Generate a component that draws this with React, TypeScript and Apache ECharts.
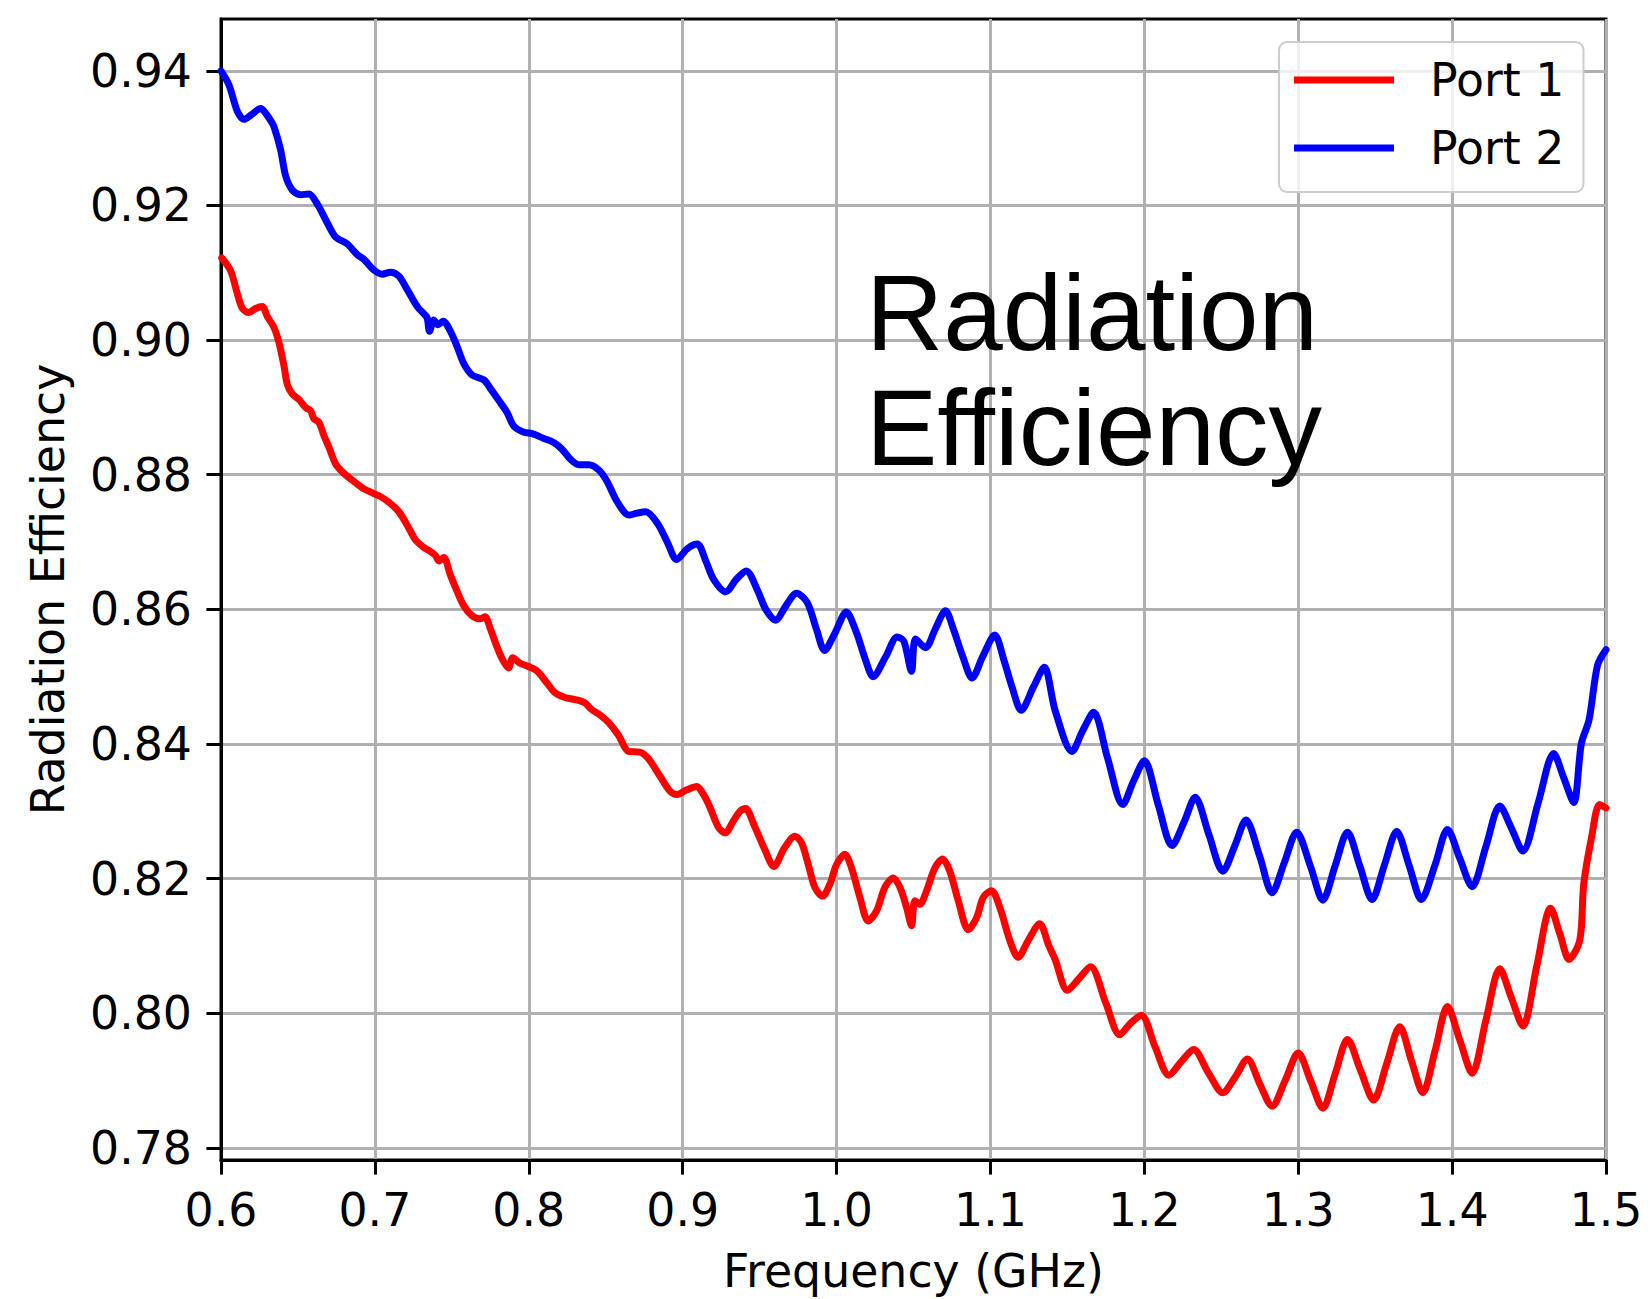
import React, { useEffect, useRef } from "react";
import * as echarts from "echarts";

// ---- Data ----
const freqPort1 = [
  0.6005, 0.6063, 0.6106, 0.6139, 0.6182, 0.6225, 0.6268, 0.6301, 0.6344, 0.6377,
  0.6409, 0.6431, 0.6463, 0.6506, 0.655, 0.6582, 0.6604, 0.6636, 0.6669, 0.6701,
  0.6745, 0.6799, 0.6864, 0.6929, 0.6994, 0.7048, 0.7102, 0.7156, 0.721, 0.7264,
  0.7318, 0.7361, 0.7394, 0.7416, 0.7448, 0.7489, 0.7532, 0.7576, 0.763, 0.7684,
  0.7716, 0.7749, 0.7792, 0.7835, 0.7868, 0.7896, 0.7944, 0.7998, 0.8052, 0.8117,
  0.8171, 0.8236, 0.8301, 0.8366, 0.8409, 0.8463, 0.8518, 0.8583, 0.8648, 0.8723,
  0.8778, 0.8853, 0.8918, 0.8962, 0.9028, 0.9092, 0.9135, 0.9179, 0.9233, 0.9276,
  0.933, 0.9373, 0.9409, 0.9463, 0.953, 0.9593, 0.966, 0.9729, 0.9773, 0.9816,
  0.9859, 0.9909, 0.9957, 1.0, 1.0054, 1.0097, 1.0152, 1.0206, 1.026, 1.0314,
  1.0368, 1.0412, 1.0455, 1.0487, 1.0509, 1.0541, 1.0585, 1.0639, 1.0689, 1.0736,
  1.0791, 1.0856, 1.091, 1.0953, 1.1007, 1.1061, 1.1126, 1.118, 1.1245, 1.132,
  1.138, 1.142, 1.15, 1.157, 1.165, 1.175, 1.184, 1.191, 1.198, 1.207,
  1.216, 1.224, 1.232, 1.2415, 1.251, 1.259, 1.267, 1.275, 1.283, 1.2915,
  1.3, 1.308, 1.316, 1.324, 1.332, 1.3405, 1.349, 1.3575, 1.366, 1.3735,
  1.381, 1.389, 1.397, 1.405, 1.413, 1.422, 1.431, 1.4385, 1.446, 1.455,
  1.464, 1.47, 1.476, 1.483, 1.4855, 1.4906, 1.4958, 1.5,
];
const effPort1 = [
  0.9122, 0.9103, 0.9069, 0.9047, 0.9041, 0.9047, 0.905, 0.9035, 0.9019, 0.8996,
  0.8962, 0.8934, 0.892, 0.8912, 0.89, 0.8895, 0.8883, 0.8878, 0.8858, 0.8841,
  0.8816, 0.8802, 0.879, 0.8779, 0.8772, 0.8766, 0.8757, 0.8745, 0.8725, 0.8703,
  0.8692, 0.8686, 0.868, 0.8672, 0.8677, 0.8652, 0.8628, 0.8606, 0.8591, 0.8586,
  0.8589, 0.8572, 0.8545, 0.8523, 0.8513, 0.8528, 0.852, 0.8515, 0.8509, 0.8491,
  0.8476, 0.8469, 0.8466, 0.8461, 0.8451, 0.8443, 0.8432, 0.8413, 0.8389, 0.8388,
  0.8378, 0.8352, 0.833, 0.8325, 0.8332, 0.8337, 0.8325, 0.8305, 0.8276, 0.8268,
  0.8286, 0.83, 0.8304, 0.828, 0.8245, 0.8218, 0.8245, 0.8263, 0.8253, 0.8221,
  0.8187, 0.8174, 0.8192, 0.8221, 0.8236, 0.8216, 0.8172, 0.8137, 0.8152, 0.8187,
  0.8201, 0.8187, 0.8157, 0.813, 0.8167, 0.8162, 0.8182, 0.8216, 0.8229, 0.8211,
  0.8167, 0.8124, 0.8142, 0.8172, 0.8182, 0.8157, 0.8108, 0.8083, 0.8108, 0.8133,
  0.81, 0.808, 0.8034, 0.805, 0.8069, 0.8015, 0.7968, 0.7985, 0.7997, 0.795,
  0.7908, 0.7928, 0.7946, 0.7912, 0.7882, 0.7905, 0.7932, 0.7895, 0.7862, 0.79,
  0.7941, 0.79, 0.7859, 0.791, 0.7961, 0.7915, 0.7871, 0.7925, 0.798, 0.793,
  0.7882, 0.7945, 0.801, 0.796, 0.7911, 0.799, 0.8066, 0.8023, 0.7981, 0.807,
  0.8156, 0.8118, 0.808, 0.8109, 0.8191, 0.8261, 0.831, 0.8305,
];

const freqPort2 = [
  0.6, 0.6052, 0.6106, 0.615, 0.6193, 0.6258, 0.629, 0.6323, 0.6344, 0.6387,
  0.642, 0.6463, 0.6517, 0.6571, 0.6626, 0.6691, 0.6745, 0.682, 0.6885, 0.6929,
  0.6994, 0.7048, 0.7102, 0.7156, 0.721, 0.7275, 0.7323, 0.734, 0.7355, 0.7383,
  0.7409, 0.7444, 0.7491, 0.7535, 0.7578, 0.7632, 0.7708, 0.7751, 0.7816, 0.786,
  0.7903, 0.7968, 0.8022, 0.8098, 0.8162, 0.8216, 0.8271, 0.8325, 0.839, 0.8455,
  0.8509, 0.8574, 0.8652, 0.8704, 0.876, 0.8836, 0.89, 0.8961, 0.903, 0.9095,
  0.915, 0.92, 0.928, 0.935, 0.9413, 0.9485, 0.954, 0.9604, 0.967, 0.974,
  0.981, 0.987, 0.9922, 0.999, 1.0063, 1.013, 1.0185, 1.0238, 1.032, 1.0394,
  1.0437, 1.0487, 1.0513, 1.0578, 1.064, 1.0708, 1.076, 1.082, 1.0881, 1.095,
  1.1028, 1.1087, 1.114, 1.12, 1.128, 1.135, 1.142, 1.153, 1.16, 1.167,
  1.176, 1.186, 1.193, 1.2, 1.209, 1.218, 1.226, 1.233, 1.242, 1.251,
  1.259, 1.266, 1.275, 1.283, 1.291, 1.299, 1.308, 1.316, 1.324, 1.332,
  1.34, 1.348, 1.356, 1.364, 1.372, 1.38, 1.389, 1.397, 1.405, 1.413,
  1.422, 1.431, 1.4385, 1.446, 1.456, 1.466, 1.4725, 1.479, 1.484, 1.489,
  1.4945, 1.5,
];
const effPort2 = [
  0.94, 0.9379, 0.934, 0.9328, 0.9334, 0.9344, 0.9337, 0.9326, 0.9317, 0.9283,
  0.9244, 0.9223, 0.9216, 0.9217, 0.9202, 0.9174, 0.9153, 0.9143, 0.9127, 0.912,
  0.9104, 0.9098, 0.9101, 0.9095, 0.9075, 0.905, 0.9038, 0.9033, 0.9013, 0.903,
  0.9023, 0.9028, 0.9013, 0.899, 0.8965, 0.8948, 0.8941, 0.8928, 0.8907, 0.8892,
  0.8872, 0.8863, 0.8861, 0.8854, 0.8848, 0.8838, 0.8823, 0.8815, 0.8815, 0.8807,
  0.879, 0.876, 0.874, 0.8743, 0.8745, 0.8728, 0.87, 0.8674, 0.869, 0.8697,
  0.8672, 0.8645, 0.8626, 0.8645, 0.8657, 0.8629, 0.86, 0.8584, 0.8605, 0.8624,
  0.861, 0.857, 0.8539, 0.8565, 0.8596, 0.8565, 0.8527, 0.85, 0.853, 0.8559,
  0.8553, 0.8508, 0.8556, 0.8543, 0.857, 0.8598, 0.857, 0.853, 0.8498, 0.853,
  0.8562, 0.8525, 0.8485, 0.845, 0.8485, 0.8514, 0.845, 0.8389, 0.842, 0.8447,
  0.838, 0.831, 0.8345, 0.8375, 0.831, 0.8249, 0.8285, 0.8321, 0.8265, 0.8211,
  0.825, 0.8287, 0.8233, 0.8179, 0.8224, 0.8269, 0.8218, 0.8168, 0.8219, 0.8269,
  0.8219, 0.8169, 0.822, 0.827, 0.822, 0.8169, 0.8221, 0.8273, 0.823, 0.8188,
  0.8248, 0.8308, 0.8275, 0.8241, 0.8313, 0.8386, 0.835, 0.8313, 0.8401, 0.8436,
  0.8517, 0.854,
];

const xTickLabels = ["0.6", "0.7", "0.8", "0.9", "1.0", "1.1", "1.2", "1.3", "1.4", "1.5"];
const yTickValues = [0.78, 0.8, 0.82, 0.84, 0.86, 0.88, 0.9, 0.92, 0.94];
const seriesNames = ["Port 1", "Port 2"];
const titleLines = ["Radiation", "Efficiency"];

const pairs = (xs: number[], ys: number[]) => xs.map((x, i) => [x, ys[i]]);

export default function App() {
  const ref = useRef<HTMLDivElement>(null);
  useEffect(() => {
    if (!ref.current) return;
    const chart = echarts.init(ref.current, null, { renderer: "svg" });
    const all = [...effPort1, ...effPort2];
    const lo = Math.min(...all);
    const hi = Math.max(...all);
    const pad = (hi - lo) * 0.05;
    const font = "DejaVu Sans";
    const fs = 45.8;
    chart.setOption({
      animation: false,
      backgroundColor: "#ffffff",
      grid: {
        left: 221,
        top: 19,
        width: 1385,
        height: 1147,
        show: true,
        borderColor: "#000",
        borderWidth: 3,
        backgroundColor: "transparent",
      },
      legend: {
        orient: "vertical",
        left: 1279,
        top: 42,
        padding: [13, 19, 19, 15],
        itemWidth: 100,
        itemHeight: 7,
        itemGap: 18,
        icon: "rect",
        borderColor: "#cccccc",
        borderWidth: 2,
        borderRadius: 8,
        backgroundColor: "rgba(255,255,255,0.8)",
        textStyle: {
          fontFamily: font,
          fontSize: fs,
          color: "#000",
          lineHeight: 50,
          padding: [0, 0, 0, 31],
        },
        data: seriesNames,
      },
      xAxis: {
        type: "value",
        min: 0.6,
        max: 1.5,
        interval: 0.1,
        name: "Frequency (GHz)",
        nameLocation: "middle",
        nameGap: 88,
        nameTextStyle: { fontFamily: font, fontSize: fs, color: "#000" },
        axisLine: { show: true, lineStyle: { color: "#000", width: 3 } },
        axisTick: { show: true, length: 14.6, lineStyle: { color: "#000", width: 3 } },
        axisLabel: {
          margin: 27,
          fontFamily: font,
          fontSize: fs,
          color: "#000",
          formatter: (v: number) => xTickLabels[Math.round((v - 0.6) * 10)] ?? v.toFixed(1),
        },
        splitLine: { show: true, lineStyle: { color: "#b0b0b0", width: 3 } },
      },
      yAxis: {
        type: "value",
        min: lo - pad,
        max: hi + pad,
        name: "Radiation Efficiency",
        nameLocation: "middle",
        nameGap: 150,
        nameTextStyle: { fontFamily: font, fontSize: fs, color: "#000" },
        axisLine: { show: true, lineStyle: { color: "#000", width: 3 } },
        axisTick: {
          show: true,
          length: 14.6,
          customValues: yTickValues,
          lineStyle: { color: "#000", width: 3 },
        },
        axisLabel: {
          margin: 29,
          customValues: yTickValues,
          fontFamily: font,
          fontSize: fs,
          color: "#000",
          formatter: (v: number) => v.toFixed(2),
        },
        splitLine: { show: true, lineStyle: { color: "#b0b0b0", width: 3 } },
      },
      graphic: titleLines.map((t, i) => ({
        type: "text",
        x: 866,
        y: 312.5 + i * 115,
        z: 10,
        style: {
          text: t,
          fontFamily: "Liberation Sans",
          fontSize: 107,
          fill: "#000",
          verticalAlign: "middle",
        },
      })),
      series: [
        {
          name: seriesNames[0],
          type: "line",
          data: pairs(freqPort1, effPort1),
          showSymbol: false,
          symbol: "none",
          smooth: 0.3,
          color: "#ff0000",
          lineStyle: { color: "#ff0000", width: 7, cap: "round", join: "round" },
        },
        {
          name: seriesNames[1],
          type: "line",
          data: pairs(freqPort2, effPort2),
          showSymbol: false,
          symbol: "none",
          smooth: 0.3,
          color: "#0000ff",
          lineStyle: { color: "#0000ff", width: 7, cap: "round", join: "round" },
        },
      ],
    });
    return () => chart.dispose();
  }, []);
  return (
    <div
      ref={ref}
      style={{ position: "absolute", left: 0, top: 0, width: 1650, height: 1299, background: "#fff" }}
    />
  );
}
